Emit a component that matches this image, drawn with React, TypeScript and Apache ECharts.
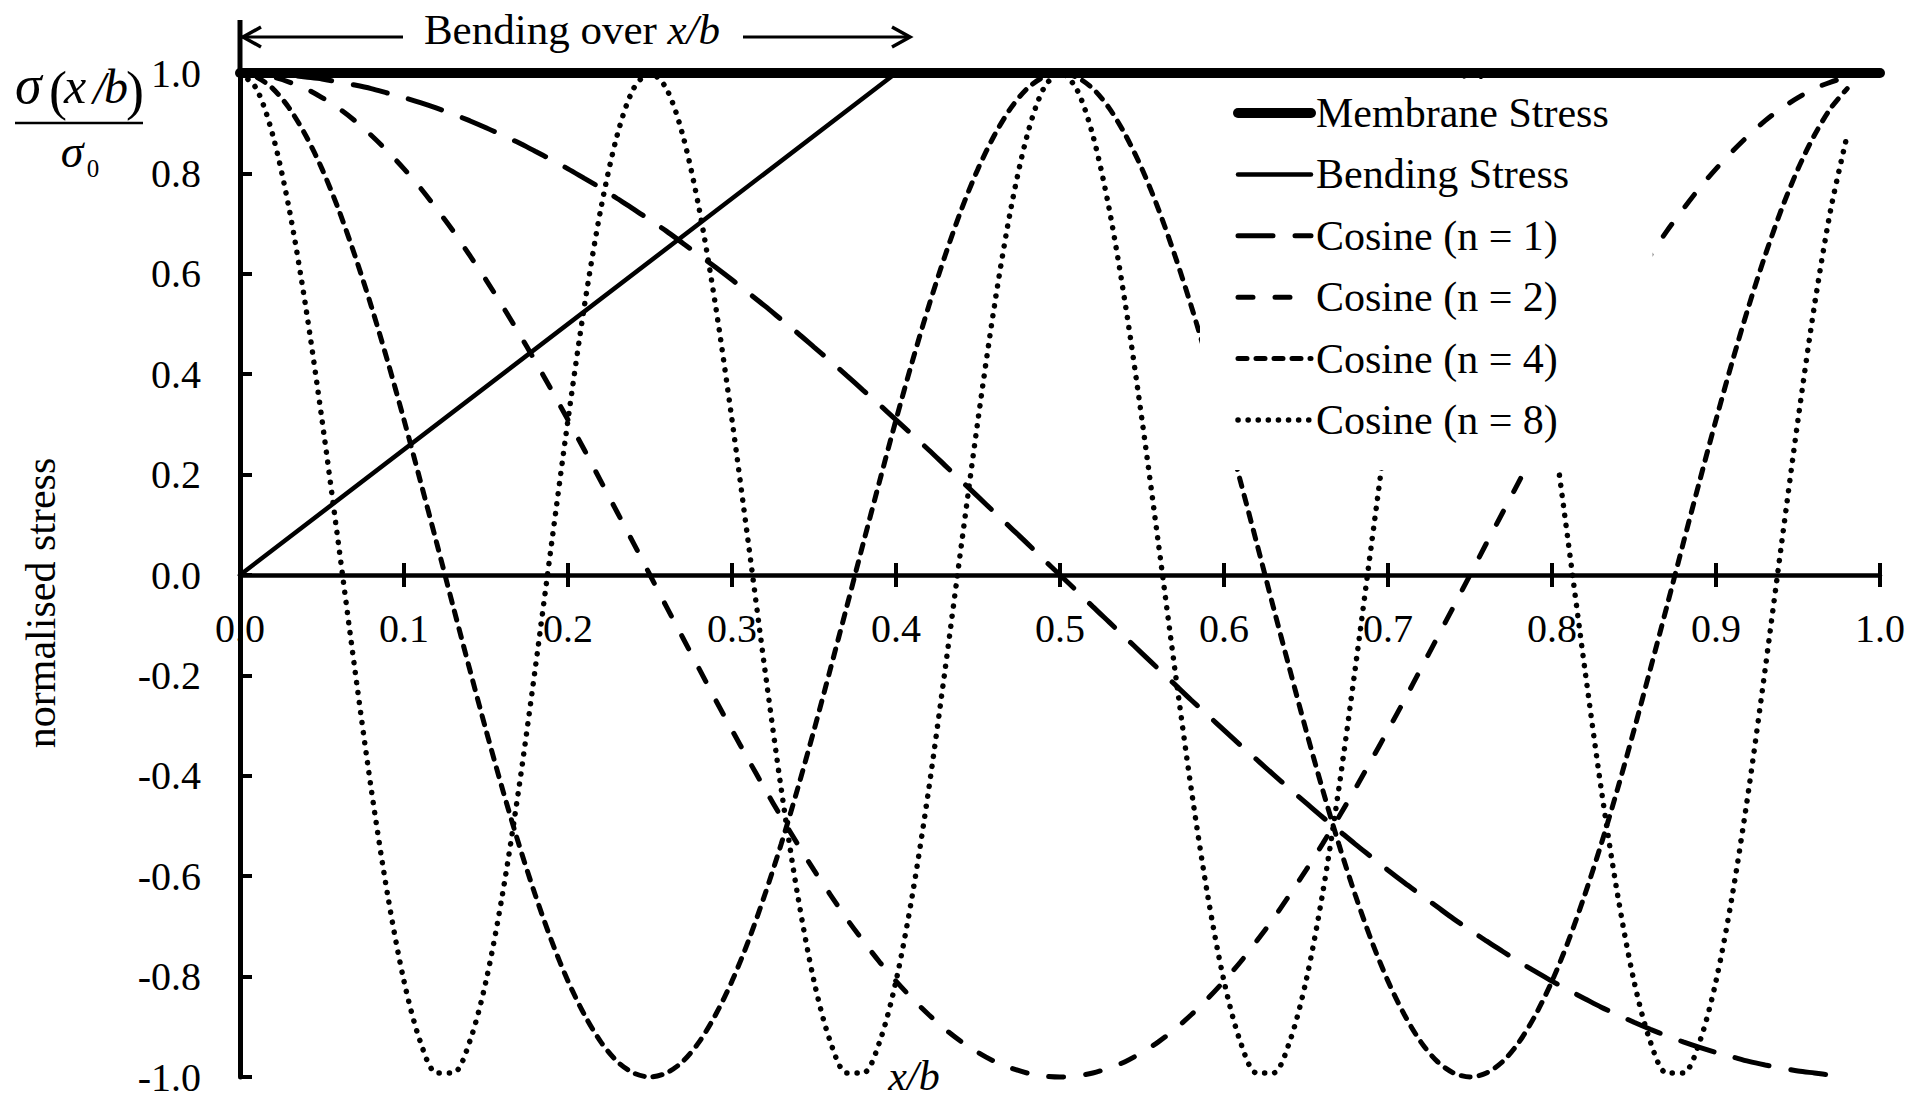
import React, { useEffect, useRef } from "react";
import * as echarts from "echarts";

// Sample positions x/b shared by the cosine curves
const xValues = [
  0, 0.01, 0.02, 0.03, 0.04, 0.05, 0.06, 0.07, 0.08, 0.09,
  0.1, 0.11, 0.12, 0.13, 0.14, 0.15, 0.16, 0.17, 0.18, 0.19,
  0.2, 0.21, 0.22, 0.23, 0.24, 0.25, 0.26, 0.27, 0.28, 0.29,
  0.3, 0.31, 0.32, 0.33, 0.34, 0.35, 0.36, 0.37, 0.38, 0.39,
  0.4, 0.41, 0.42, 0.43, 0.44, 0.45, 0.46, 0.47, 0.48, 0.49,
  0.5, 0.51, 0.52, 0.53, 0.54, 0.55, 0.56, 0.57, 0.58, 0.59,
  0.6, 0.61, 0.62, 0.63, 0.64, 0.65, 0.66, 0.67, 0.68, 0.69,
  0.7, 0.71, 0.72, 0.73, 0.74, 0.75, 0.76, 0.77, 0.78, 0.79,
  0.8, 0.81, 0.82, 0.83, 0.84, 0.85, 0.86, 0.87, 0.88, 0.89,
  0.9, 0.91, 0.92, 0.93, 0.94, 0.95, 0.96, 0.97, 0.98,
];

const membraneX = [0, 1];
const membraneY = [1, 1];

const bendingX = [0, 0.4];
const bendingY = [0, 1];

const cosineN1 = [
  1.0, 0.999, 0.998, 0.996, 0.992, 0.988, 0.982, 0.976, 0.969, 0.96,
  0.951, 0.941, 0.93, 0.918, 0.905, 0.891, 0.876, 0.861, 0.844, 0.827,
  0.809, 0.79, 0.771, 0.75, 0.729, 0.707, 0.685, 0.661, 0.637, 0.613,
  0.588, 0.562, 0.536, 0.509, 0.482, 0.454, 0.426, 0.397, 0.368, 0.339,
  0.309, 0.279, 0.249, 0.218, 0.187, 0.156, 0.125, 0.094, 0.063, 0.031,
  0.0, -0.031, -0.063, -0.094, -0.125, -0.156, -0.187, -0.218, -0.249, -0.279,
  -0.309, -0.339, -0.368, -0.397, -0.426, -0.454, -0.482, -0.509, -0.536, -0.562,
  -0.588, -0.613, -0.637, -0.661, -0.685, -0.707, -0.729, -0.75, -0.771, -0.79,
  -0.809, -0.827, -0.844, -0.861, -0.876, -0.891, -0.905, -0.918, -0.93, -0.941,
  -0.951, -0.96, -0.969, -0.976, -0.982, -0.988, -0.992, -0.996, -0.998,
];

const cosineN2 = [
  1.0, 0.998, 0.992, 0.982, 0.969, 0.951, 0.93, 0.905, 0.876, 0.844,
  0.809, 0.771, 0.729, 0.685, 0.637, 0.588, 0.536, 0.482, 0.426, 0.368,
  0.309, 0.249, 0.187, 0.125, 0.063, 0.0, -0.063, -0.125, -0.187, -0.249,
  -0.309, -0.368, -0.426, -0.482, -0.536, -0.588, -0.637, -0.685, -0.729, -0.771,
  -0.809, -0.844, -0.876, -0.905, -0.93, -0.951, -0.969, -0.982, -0.992, -0.998,
  -1.0, -0.998, -0.992, -0.982, -0.969, -0.951, -0.93, -0.905, -0.876, -0.844,
  -0.809, -0.771, -0.729, -0.685, -0.637, -0.588, -0.536, -0.482, -0.426, -0.368,
  -0.309, -0.249, -0.187, -0.125, -0.063, 0.0, 0.063, 0.125, 0.187, 0.249,
  0.309, 0.368, 0.426, 0.482, 0.536, 0.588, 0.637, 0.685, 0.729, 0.771,
  0.809, 0.844, 0.876, 0.905, 0.93, 0.951, 0.969, 0.982, 0.992,
];

const cosineN4 = [
  1.0, 0.992, 0.969, 0.93, 0.876, 0.809, 0.729, 0.637, 0.536, 0.426,
  0.309, 0.187, 0.063, -0.063, -0.187, -0.309, -0.426, -0.536, -0.637, -0.729,
  -0.809, -0.876, -0.93, -0.969, -0.992, -1.0, -0.992, -0.969, -0.93, -0.876,
  -0.809, -0.729, -0.637, -0.536, -0.426, -0.309, -0.187, -0.063, 0.063, 0.187,
  0.309, 0.426, 0.536, 0.637, 0.729, 0.809, 0.876, 0.93, 0.969, 0.992,
  1.0, 0.992, 0.969, 0.93, 0.876, 0.809, 0.729, 0.637, 0.536, 0.426,
  0.309, 0.187, 0.063, -0.063, -0.187, -0.309, -0.426, -0.536, -0.637, -0.729,
  -0.809, -0.876, -0.93, -0.969, -0.992, -1.0, -0.992, -0.969, -0.93, -0.876,
  -0.809, -0.729, -0.637, -0.536, -0.426, -0.309, -0.187, -0.063, 0.063, 0.187,
  0.309, 0.426, 0.536, 0.637, 0.729, 0.809, 0.876, 0.93, 0.969,
];

const cosineN8 = [
  1.0, 0.969, 0.876, 0.729, 0.536, 0.309, 0.063, -0.187, -0.426, -0.637,
  -0.809, -0.93, -0.992, -0.992, -0.93, -0.809, -0.637, -0.426, -0.187, 0.063,
  0.309, 0.536, 0.729, 0.876, 0.969, 1.0, 0.969, 0.876, 0.729, 0.536,
  0.309, 0.063, -0.187, -0.426, -0.637, -0.809, -0.93, -0.992, -0.992, -0.93,
  -0.809, -0.637, -0.426, -0.187, 0.063, 0.309, 0.536, 0.729, 0.876, 0.969,
  1.0, 0.969, 0.876, 0.729, 0.536, 0.309, 0.063, -0.187, -0.426, -0.637,
  -0.809, -0.93, -0.992, -0.992, -0.93, -0.809, -0.637, -0.426, -0.187, 0.063,
  0.309, 0.536, 0.729, 0.876, 0.969, 1.0, 0.969, 0.876, 0.729, 0.536,
  0.309, 0.063, -0.187, -0.426, -0.637, -0.809, -0.93, -0.992, -0.992, -0.93,
  -0.809, -0.637, -0.426, -0.187, 0.063, 0.309, 0.536, 0.729, 0.876,
];

const seriesNames = [
  "Membrane Stress",
  "Bending Stress",
  "Cosine (n = 1)",
  "Cosine (n = 2)",
  "Cosine (n = 4)",
  "Cosine (n = 8)",
];

const SERIF = '"Liberation Serif", "Times New Roman", serif';
const INK = "#000";

const GRID_TOP = 73;
const GRID_BOTTOM = 22;
const CHART_H = 1099;

const pairs = (xs: number[], ys: number[]) => ys.map((y, i) => [xs[i], y]);

// Line looks: width, dash pattern and cap for each series
const looks: { width: number; type: any; cap: "round" | "butt" }[] = [
  { width: 10, type: "solid", cap: "round" },
  { width: 4.5, type: "solid", cap: "round" },
  { width: 5, type: [35, 22], cap: "round" },
  { width: 5, type: [15, 22], cap: "round" },
  { width: 5, type: [9, 9], cap: "round" },
  { width: 5.5, type: [0.1, 10], cap: "round" },
];

const seriesData = [
  pairs(membraneX, membraneY),
  pairs(bendingX, bendingY),
  pairs(xValues, cosineN1),
  pairs(xValues, cosineN2),
  pairs(xValues, cosineN4),
  pairs(xValues, cosineN8),
];

const tickFormat = (v: number) => v.toFixed(1);

function txt(
  text: string,
  x: number,
  y: number,
  fontSize: number,
  italic: boolean,
  align: string = "left",
  extra: any = {}
) {
  return {
    type: "text",
    x,
    y,
    ...extra,
    style: {
      text,
      fontSize,
      fontFamily: SERIF,
      fontStyle: italic ? "italic" : "normal",
      fill: INK,
      textAlign: align,
      textVerticalAlign: "middle",
      align,
      verticalAlign: "middle",
    },
  };
}

export default function App() {
  const ref = useRef<HTMLDivElement>(null);

  useEffect(() => {
    if (!ref.current) return;
    const chart = echarts.init(ref.current, undefined, { renderer: "svg" });

    // distance from the grid bottom up to y = 0 (the y range is symmetric)
    const zeroOffset = -(CHART_H - GRID_TOP - GRID_BOTTOM) / 2;

    const axisCommon = {
      type: "value",
      min: 0,
      max: 1,
      interval: 0.1,
      position: "bottom",
      offset: zeroOffset,
      splitLine: { show: false },
    };

    const option: any = {
      animation: false,
      backgroundColor: "#fff",
      textStyle: { fontFamily: SERIF, color: INK },
      grid: {
        left: 240,
        right: 32,
        top: GRID_TOP,
        bottom: GRID_BOTTOM,
        containLabel: false,
        outerBoundsMode: "none",
      },
      xAxis: [
        {
          ...axisCommon,
          axisLine: { show: true, onZero: false, lineStyle: { color: INK, width: 4.5 } },
          axisTick: { show: true, inside: false, length: 12, lineStyle: { color: INK, width: 4 } },
          axisLabel: {
            show: true,
            margin: 33,
            fontSize: 40,
            fontFamily: SERIF,
            color: INK,
            formatter: tickFormat,
          },
        },
        {
          // upper half of the crossing ticks on the zero line
          ...axisCommon,
          axisLine: { show: false, onZero: false },
          axisTick: { show: true, inside: true, length: 12, lineStyle: { color: INK, width: 4 } },
          axisLabel: { show: false },
        },
      ],
      yAxis: {
        type: "value",
        min: -1,
        max: 1,
        interval: 0.2,
        splitLine: { show: false },
        axisLine: { show: true, onZero: false, lineStyle: { color: INK, width: 5 } },
        axisTick: { show: true, inside: true, length: 12, lineStyle: { color: INK, width: 4 } },
        axisLabel: {
          margin: 39,
          fontSize: 40,
          fontFamily: SERIF,
          color: INK,
          formatter: tickFormat,
        },
      },
      legend: {
        orient: "vertical",
        left: 1200,
        top: 79,
        padding: [13, 44, 29, 33],
        backgroundColor: "#fff",
        itemWidth: 73,
        itemHeight: 14,
        itemGap: 19.4,
        selectedMode: false,
        z: 20,
        itemStyle: { opacity: 0 },
        textStyle: { fontFamily: SERIF, fontSize: 42, lineHeight: 42, color: INK },
        data: seriesNames.map((name, i) => ({
          name,
          itemStyle: { opacity: 0 },
          lineStyle: {
            color: INK,
            width: looks[i].width,
            type: looks[i].type,
            cap: looks[i].cap,
          },
        })),
      },
      series: seriesNames.map((name, i) => ({
        name,
        type: "line",
        xAxisIndex: 0,
        data: seriesData[i],
        symbol: "none",
        showSymbol: false,
        clip: false,
        smooth: i >= 2 ? 0.3 : false,
        silent: true,
        lineStyle: {
          color: INK,
          width: looks[i].width,
          type: looks[i].type,
          cap: looks[i].cap,
        },
        itemStyle: { color: INK },
      })),
      graphic: [
        // y axis carried up to the top annotation
        {
          type: "line",
          shape: { x1: 240, y1: 20, x2: 240, y2: 74 },
          style: { stroke: INK, lineWidth: 5 },
        },
        // left arrow of the "Bending over x/b" span
        {
          type: "line",
          shape: { x1: 242, y1: 37, x2: 403, y2: 37 },
          style: { stroke: INK, lineWidth: 3 },
        },
        {
          type: "polyline",
          shape: { points: [[261, 27], [243, 37], [261, 47]] },
          style: { stroke: INK, lineWidth: 3.5, fill: null },
        },
        // right arrow
        {
          type: "line",
          shape: { x1: 743, y1: 37, x2: 909, y2: 37 },
          style: { stroke: INK, lineWidth: 3 },
        },
        {
          type: "polyline",
          shape: { points: [[892, 27], [910, 37], [892, 47]] },
          style: { stroke: INK, lineWidth: 3.5, fill: null },
        },
        {
          type: "text",
          x: 572,
          y: 29,
          style: {
            text: "{n|Bending over }{i|x/b}",
            rich: {
              n: { fontSize: 43, fontFamily: SERIF, fill: INK },
              i: { fontSize: 43, fontFamily: SERIF, fontStyle: "italic", fill: INK },
            },
            fill: INK,
            textAlign: "center",
            textVerticalAlign: "middle",
            align: "center",
            verticalAlign: "middle",
          },
        },
        // x axis title
        txt("x/b", 914, 1076, 42, true, "center"),
        // y axis title
        txt("normalised stress", 41, 603, 42, false, "center", { rotation: Math.PI / 2 }),
        // sigma(x/b) / sigma_0
        txt("σ", 15, 85, 54, true),
        txt("(", 49, 91, 54, false),
        txt("x", 64, 86, 50, true),
        txt("/", 93, 88, 46, true),
        txt("b", 104, 86, 48, true),
        txt(")", 126, 91, 54, false),
        {
          type: "line",
          shape: { x1: 15, y1: 123, x2: 143, y2: 123 },
          style: { stroke: INK, lineWidth: 2.5 },
        },
        txt("σ", 72, 151, 46, true, "center"),
        txt("0", 93, 168, 25, false, "center"),
      ],
    };

    chart.setOption(option);
    return () => chart.dispose();
  }, []);

  return (
    <div
      ref={ref}
      style={{ position: "fixed", left: 0, top: 0, width: 1912, height: 1099, background: "#fff" }}
    />
  );
}
